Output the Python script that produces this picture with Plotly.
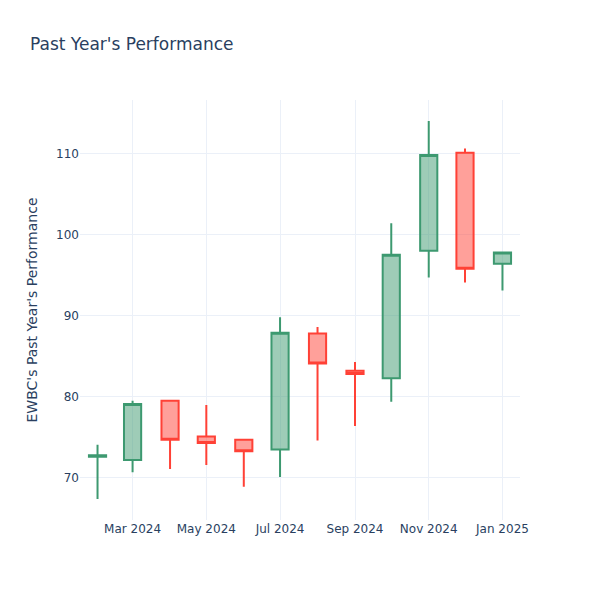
import plotly.graph_objects as go

dates = ["2024-02-01", "2024-03-01", "2024-04-01", "2024-05-01", "2024-06-01", "2024-07-01",
         "2024-08-01", "2024-09-01", "2024-10-01", "2024-11-01", "2024-12-01", "2025-01-01"]
opens = [72.6, 72.2, 79.5, 75.1, 74.7, 73.5, 87.8, 83.2, 82.3, 98.0, 110.1, 96.4]
highs = [74.1, 79.5, 79.5, 79.0, 74.7, 89.8, 88.6, 84.3, 101.4, 114.0, 110.6, 97.8]
lows = [67.4, 70.7, 71.1, 71.6, 68.9, 70.1, 74.6, 76.4, 79.4, 94.7, 94.1, 93.1]
closes = [72.8, 79.1, 74.7, 74.3, 73.3, 87.9, 84.1, 82.8, 97.5, 109.8, 95.8, 97.8]

fig = go.Figure(go.Candlestick(x=dates, open=opens, high=highs, low=lows, close=closes))
fig.update_layout(
    template="plotly_white",
    width=600, height=600,
    font=dict(family="DejaVu Sans"),
    title=dict(text="Past Year's Performance", x=22 / 600, xanchor="left",
               y=1 - 36 / 600, yanchor="middle"),
    yaxis_title="EWBC's Past Year's Performance",
    xaxis_rangeslider_visible=False,
    margin=dict(l=72, r=88, t=92, b=88),
)
fig.write_html("out.html")
